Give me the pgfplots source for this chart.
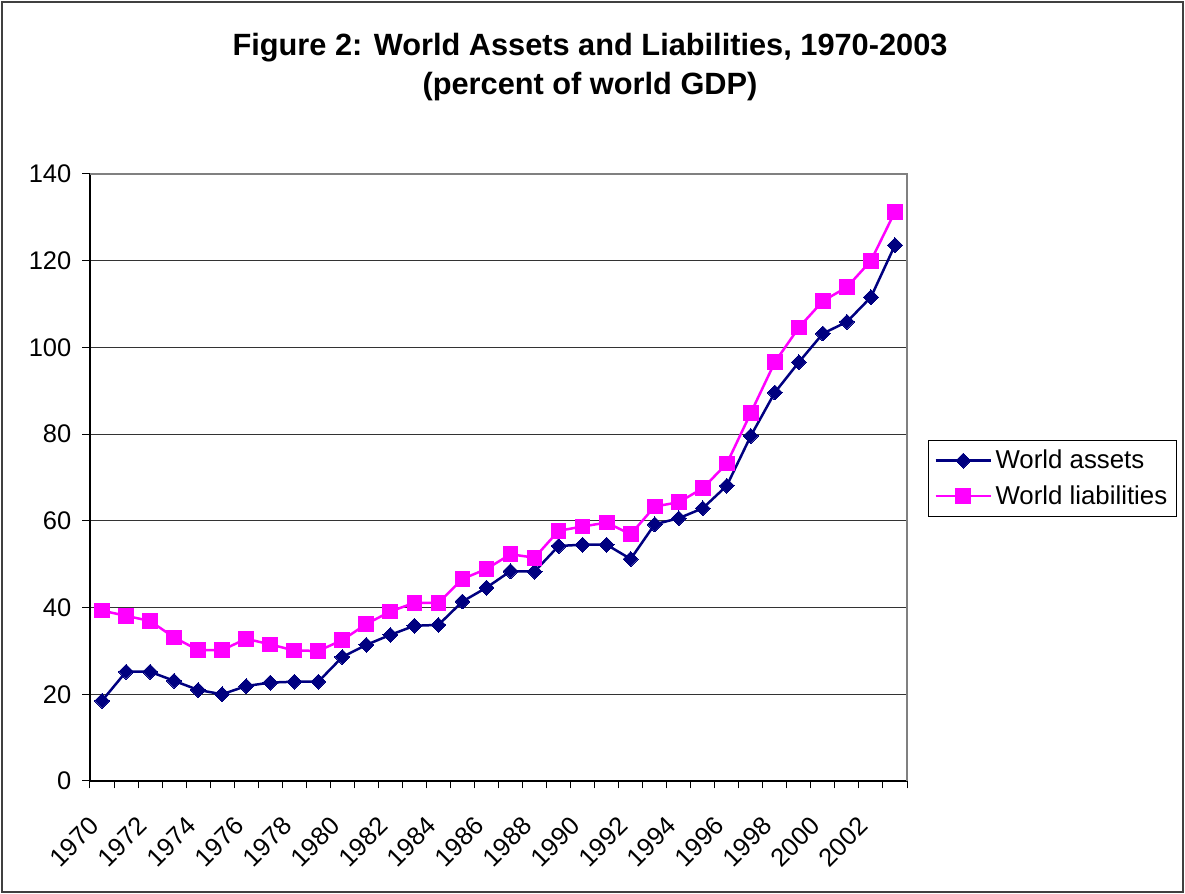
\documentclass[border=0pt]{standalone}
\usepackage{pgfplots}
\pgfplotsset{compat=1.18}
\usepackage{fontspec}
\setmainfont{Liberation Sans}
\definecolor{navyc}{HTML}{000080}
\definecolor{magc}{HTML}{FF00FF}
\pgfplotstableread{
x assets liab
0 18.5 39.3
1 25.2 38.1
2 25.2 36.9
3 23.1 33.1
4 21.0 30.2
5 20.0 30.2
6 21.9 32.8
7 22.7 31.5
8 22.9 30.1
9 22.9 30.0
10 28.6 32.5
11 31.4 36.2
12 33.7 39.1
13 35.8 41.1
14 36.0 41.1
15 41.4 46.6
16 44.6 48.9
17 48.4 52.3
18 48.3 51.5
19 54.2 57.7
20 54.5 58.7
21 54.5 59.6
22 51.2 56.9
23 59.2 63.3
24 60.6 64.3
25 62.9 67.5
26 68.1 73.2
27 79.6 84.9
28 89.6 96.6
29 96.6 104.6
30 103.2 110.7
31 105.9 113.9
32 111.6 120.0
33 123.6 131.3
}\datatable
\begin{document}
\begin{tikzpicture}
\useasboundingbox (-1.80,-2.26) rectangle (21.90,15.62);
\draw[line width=0.04cm, black!75] (-1.76,-2.22) rectangle (21.86,15.58);
\node[font=\fontsize{17.5}{22.2}\selectfont\bfseries, align=center] at (10.0,14.27) {Figure 2: World Assets and Liabilities, 1970-2003\\(percent of world GDP)};
\begin{axis}[
  at={(0,0)}, anchor=south west,
  width=16.34cm, height=12.14cm, scale only axis,
  xmin=-0.5, xmax=33.5, ymin=0, ymax=140,
  axis x line*=bottom, axis y line*=left,
  axis line style={black, line width=0.03cm},
  ytick={0,20,...,140},
  xtick={0,2,...,32},
  xticklabels={1970,1972,1974,1976,1978,1980,1982,1984,1986,1988,1990,1992,1994,1996,1998,2000,2002},
  minor xtick={-0.5,0.5,...,33.5},
  tick align=outside,
  major tick length=0.15cm, minor tick length=0.15cm,
  every major x tick/.append style={draw=none},
  every minor x tick/.append style={draw=black, line width=0.02cm},
  ytick style={black, line width=0.02cm},
  ymajorgrids,
  grid style={black!80, line width=0.02cm},
  yticklabel style={font=\fontsize{14.5}{17}\selectfont, xshift=-0.1cm},
  /pgf/number format/assume math mode=true,
  xticklabel style={font=\fontsize{14.5}{17}\selectfont, xshift=-0.14cm, yshift=-0.66cm, rotate=45, anchor=east, inner sep=0pt},
  clip=false,
  legend style={at={(1.0257,0.5618)}, anchor=north west, draw=black, line width=0.02cm,
    font=\fontsize{14.7}{17}\selectfont, inner xsep=0.12cm, inner ysep=0.12cm, row sep=0.14cm},
  legend cell align=left,
  legend image code/.code={\draw[mark repeat=2, mark phase=2, #1] plot coordinates {(0cm,0cm) (0.55cm,0cm) (1.1cm,0cm)};},
]
\addplot[navyc, line width=0.05cm, mark=square*, mark size=3.0pt, mark options={rotate=45, fill=navyc, line width=0pt}] table[x=x, y=assets] {\datatable};
\addlegendentry{World assets}
\addplot[magc, line width=0.05cm, mark=square*, mark size=4.2pt, mark options={fill=magc, line width=0pt}] table[x=x, y=liab] {\datatable};
\addlegendentry{World liabilities}
\draw[gray, line width=0.04cm] (rel axis cs:0,1) -- (rel axis cs:1,1) -- (rel axis cs:1,0);
\end{axis}
\end{tikzpicture}
\end{document}
